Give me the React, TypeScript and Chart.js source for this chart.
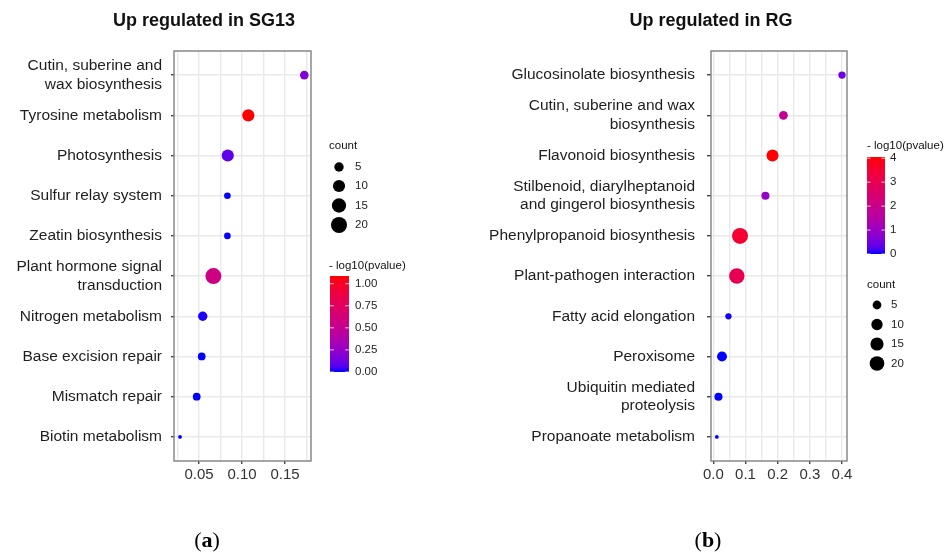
import { useEffect, useRef } from "react";
import { Chart, registerables } from "chart.js";

Chart.register(...registerables);

// ---------- data: panel (a) Up regulated in SG13 ----------
const sg13Pathways: (string | string[])[] = [
  ["Cutin, suberine and", "wax biosynthesis"],
  "Tyrosine metabolism",
  "Photosynthesis",
  "Sulfur relay system",
  "Zeatin biosynthesis",
  ["Plant hormone signal", "transduction"],
  "Nitrogen metabolism",
  "Base excision repair",
  "Mismatch repair",
  "Biotin metabolism",
];
const sg13GeneRatio = [0.1724, 0.1073, 0.0834, 0.083, 0.083, 0.0667, 0.0543, 0.0531, 0.0473, 0.0279];
const sg13Count = [4, 10, 10, 2, 2, 20, 5, 3, 3, 1];
const sg13LogP = [0.17, 1.087, 0.09, 0.0, 0.0, 0.57, 0.01, 0.0, 0.0, 0.0];
const sg13XRange = [0.0209, 0.1802];
const sg13MajorTicks = [0.05, 0.1, 0.15];
const sg13MinorTicks = [0.025, 0.075, 0.125, 0.175];
const sg13CountBreaks = [5, 10, 15, 20];
const sg13CountLimits = [1, 20];
const sg13PBreaks = [0, 0.25, 0.5, 0.75, 1.0];
const sg13PLimits = [0, 1.087];

// ---------- data: panel (b) Up regulated in RG ----------
const rgPathways: (string | string[])[] = [
  "Glucosinolate biosynthesis",
  ["Cutin, suberine and wax", "biosynthesis"],
  "Flavonoid biosynthesis",
  ["Stilbenoid, diarylheptanoid", "and gingerol biosynthesis"],
  "Phenylpropanoid biosynthesis",
  "Plant-pathogen interaction",
  "Fatty acid elongation",
  "Peroxisome",
  ["Ubiquitin mediated", "proteolysis"],
  "Propanoate metabolism",
];
const rgGeneRatio = [0.4, 0.218, 0.184, 0.162, 0.083, 0.073, 0.047, 0.027, 0.016, 0.011];
const rgCount = [3, 5, 12, 4, 25, 23, 2, 7, 4, 1];
const rgLogP = [0.45, 1.85, 4.05, 0.95, 3.55, 3.0, 0.02, 0.0, 0.0, 0.0];
const rgXRange = [-0.0072, 0.4156];
const rgMajorTicks = [0, 0.1, 0.2, 0.3, 0.4];
const rgMinorTicks = [0.05, 0.15, 0.25, 0.35];
const rgCountBreaks = [5, 10, 15, 20];
const rgCountLimits = [1, 25];
const rgPBreaks = [0, 1, 2, 3, 4];
const rgPLimits = [0, 4.05];

// ---------- colour (Lab interpolation blue -> red, like ggplot) ----------
const lin = (c: number) => {
  c /= 255;
  return c <= 0.04045 ? c / 12.92 : Math.pow((c + 0.055) / 1.055, 2.4);
};
const unlin = (c: number) => {
  const v = c <= 0.0031308 ? 12.92 * c : 1.055 * Math.pow(c, 1 / 2.4) - 0.055;
  return Math.max(0, Math.min(255, Math.round(v * 255)));
};
const XN = 0.95047, YN = 1, ZN = 1.08883;
function rgbToLab(rgb: number[]) {
  const R = lin(rgb[0]), G = lin(rgb[1]), B = lin(rgb[2]);
  const X = 0.4124 * R + 0.3576 * G + 0.1805 * B;
  const Y = 0.2126 * R + 0.7152 * G + 0.0722 * B;
  const Z = 0.0193 * R + 0.1192 * G + 0.9505 * B;
  const f = (t: number) => (t > 0.008856 ? Math.cbrt(t) : 7.787 * t + 16 / 116);
  const fx = f(X / XN), fy = f(Y / YN), fz = f(Z / ZN);
  return [116 * fy - 16, 500 * (fx - fy), 200 * (fy - fz)];
}
function labToRgb(lab: number[]) {
  const fy = (lab[0] + 16) / 116;
  const fx = fy + lab[1] / 500;
  const fz = fy - lab[2] / 200;
  const fi = (t: number) => (t * t * t > 0.008856 ? t * t * t : (t - 16 / 116) / 7.787);
  const X = XN * fi(fx), Y = YN * fi(fy), Z = ZN * fi(fz);
  const R = 3.2406 * X - 1.5372 * Y - 0.4986 * Z;
  const G = -0.9689 * X + 1.8758 * Y + 0.0415 * Z;
  const B = 0.0557 * X - 0.204 * Y + 1.057 * Z;
  return [unlin(R), unlin(G), unlin(B)];
}
const LOW = rgbToLab([0, 0, 255]);
const HIGH = rgbToLab([255, 0, 0]);
function gradColor(t: number) {
  t = Math.max(0, Math.min(1, t));
  const lab = [0, 1, 2].map((k) => LOW[k] + (HIGH[k] - LOW[k]) * t);
  const c = labToRgb(lab);
  return `rgb(${c[0]},${c[1]},${c[2]})`;
}
const colorOf = (v: number, lim: number[]) => gradColor((v - lim[0]) / (lim[1] - lim[0]));
const sizeOf = (c: number, lim: number[]) =>
  1.9 + 6.1 * Math.sqrt(Math.max(0, (c - lim[0]) / (lim[1] - lim[0])));

const SANS = "'Liberation Sans', Arial, sans-serif";
const SERIF = "'Liberation Serif', 'Times New Roman', serif";

interface Panel {
  title: string;
  tag: string;
  labels: (string | string[])[];
  ratio: number[];
  count: number[];
  logP: number[];
  xRange: number[];
  major: number[];
  minor: number[];
  decimals: number;
  countBreaks: number[];
  countLimits: number[];
  pBreaks: number[];
  pLimits: number[];
  pDecimals: number;
  left: number;
  right: number;
  tickLen: number;
  labelPad: number;
  titleX: number;
  tagX: number;
  countTitle: [number, number];
  countX: number;
  countYs: number[];
  countLabelX: number;
  barTitle: [number, number];
  bar: [number, number, number, number];
  barLabelX: number;
}

const W = 946, H = 554;
const TOP = 51, BOTTOM = 461;

const panels: Panel[] = [
  {
    title: "Up regulated in SG13",
    tag: "a",
    labels: sg13Pathways,
    ratio: sg13GeneRatio,
    count: sg13Count,
    logP: sg13LogP,
    xRange: sg13XRange,
    major: sg13MajorTicks,
    minor: sg13MinorTicks,
    decimals: 2,
    countBreaks: sg13CountBreaks,
    countLimits: sg13CountLimits,
    pBreaks: sg13PBreaks,
    pLimits: sg13PLimits,
    pDecimals: 2,
    left: 174,
    right: 311,
    tickLen: 3,
    labelPad: 9,
    titleX: 204,
    tagX: 207,
    countTitle: [329, 146],
    countX: 339,
    countYs: [167, 186, 205.5, 225],
    countLabelX: 355,
    barTitle: [329, 266],
    bar: [330, 276, 19, 372],
    barLabelX: 355,
  },
  {
    title: "Up regulated in RG",
    tag: "b",
    labels: rgPathways,
    ratio: rgGeneRatio,
    count: rgCount,
    logP: rgLogP,
    xRange: rgXRange,
    major: rgMajorTicks,
    minor: rgMinorTicks,
    decimals: 1,
    countBreaks: rgCountBreaks,
    countLimits: rgCountLimits,
    pBreaks: rgPBreaks,
    pLimits: rgPLimits,
    pDecimals: 0,
    left: 711,
    right: 847,
    tickLen: 4,
    labelPad: 12,
    titleX: 711,
    tagX: 708,
    countTitle: [867, 285],
    countX: 877,
    countYs: [305, 324.5, 344, 363.5],
    countLabelX: 891,
    barTitle: [867, 146],
    bar: [867, 157, 18, 254],
    barLabelX: 890,
  },
];

const isIn = (v: number, arr: number[]) => arr.some((a) => Math.abs(a - v) < 1e-9);

const decorPlugin = {
  id: "decor",
  afterDraw(chart: any, _args: any, opts: any) {
    const p: Panel = opts.panel;
    const ctx: CanvasRenderingContext2D = chart.ctx;
    const a = chart.chartArea;
    ctx.save();
    ctx.strokeStyle = "#808080";
    ctx.lineWidth = 1.4;
    ctx.strokeRect(a.left, a.top, a.right - a.left, a.bottom - a.top);

    ctx.fillStyle = "#111";
    ctx.textAlign = "center";
    ctx.textBaseline = "middle";
    ctx.font = `bold 18px ${SANS}`;
    ctx.fillText(p.title, p.titleX, 21);

    ctx.textBaseline = "alphabetic";
    ctx.textAlign = "left";
    const fReg = `22px ${SERIF}`;
    const fBold = `bold 22px ${SERIF}`;
    ctx.font = fReg;
    const wP = ctx.measureText("(").width;
    const wC = ctx.measureText(")").width;
    ctx.font = fBold;
    const wT = ctx.measureText(p.tag).width;
    let tx = p.tagX - (wP + wT + wC) / 2;
    const ty = 547;
    ctx.fillStyle = "#000";
    ctx.font = fReg;
    ctx.fillText("(", tx, ty);
    tx += wP;
    ctx.font = fBold;
    ctx.fillText(p.tag, tx, ty);
    tx += wT;
    ctx.font = fReg;
    ctx.fillText(")", tx, ty);

    ctx.textBaseline = "middle";
    ctx.textAlign = "left";
    ctx.font = `11.5px ${SANS}`;
    ctx.fillStyle = "#111";
    ctx.fillText("count", p.countTitle[0], p.countTitle[1]);
    p.countBreaks.forEach((c, i) => {
      const y = p.countYs[i];
      ctx.beginPath();
      ctx.fillStyle = "#000";
      ctx.arc(p.countX, y, sizeOf(c, p.countLimits), 0, Math.PI * 2);
      ctx.fill();
      ctx.fillStyle = "#222";
      ctx.fillText(String(c), p.countLabelX, y);
    });

    ctx.fillStyle = "#111";
    ctx.fillText("- log10(pvalue)", p.barTitle[0], p.barTitle[1]);
    const [bx, btop, bw, bbot] = p.bar;
    const g = ctx.createLinearGradient(0, bbot, 0, btop);
    for (let i = 0; i <= 20; i++) g.addColorStop(i / 20, gradColor(i / 20));
    ctx.fillStyle = g;
    ctx.fillRect(bx, btop, bw, bbot - btop);
    const span = p.pLimits[1] - p.pLimits[0];
    ctx.strokeStyle = "rgba(255,255,255,0.75)";
    ctx.lineWidth = 1;
    p.pBreaks.forEach((v) => {
      const y = bbot - ((v - p.pLimits[0]) / span) * (bbot - btop);
      ctx.beginPath();
      ctx.moveTo(bx, y);
      ctx.lineTo(bx + bw / 5, y);
      ctx.moveTo(bx + bw - bw / 5, y);
      ctx.lineTo(bx + bw, y);
      ctx.stroke();
      ctx.fillStyle = "#222";
      ctx.fillText(v.toFixed(p.pDecimals), p.barLabelX, y);
    });
    ctx.restore();
  },
};

function makeChart(canvas: HTMLCanvasElement, p: Panel) {
  const ticks = [...p.major, ...p.minor].sort((x, y) => x - y);
  return new Chart(canvas, {
    type: "scatter",
    data: {
      datasets: [
        {
          data: p.ratio.map((x, i) => ({ x, y: i })),
          pointRadius: p.count.map((c) => sizeOf(c, p.countLimits)),
          pointHoverRadius: p.count.map((c) => sizeOf(c, p.countLimits)),
          pointBackgroundColor: p.logP.map((v) => colorOf(v, p.pLimits)),
          pointBorderWidth: 0,
          borderWidth: 0,
        } as any,
      ],
    },
    options: {
      responsive: false,
      animation: false,
      events: [],
      layout: {
        autoPadding: false,
        padding: { left: 0, right: W - p.right, top: TOP, bottom: H - BOTTOM - 30 },
      },
      plugins: {
        legend: { display: false },
        tooltip: { enabled: false },
        decor: { panel: p },
      } as any,
      scales: {
        x: {
          type: "linear",
          min: p.xRange[0],
          max: p.xRange[1],
          afterBuildTicks: (s: any) => {
            s.ticks = ticks.map((v) => ({ value: v }));
          },
          afterFit: (s: any) => {
            s.height = 30;
          },
          border: { display: false },
          grid: {
            color: "#e9e9e9",
            lineWidth: 1.4,
            drawTicks: true,
            tickLength: 3,
            tickColor: (c: any) => (isIn(c.tick?.value, p.major) ? "#444" : "rgba(0,0,0,0)"),
          },
          ticks: {
            autoSkip: false,
            maxRotation: 0,
            padding: 2,
            color: "#333",
            font: { family: SANS, size: 15 },
            callback: (v: any) => (isIn(Number(v), p.major) ? Number(v).toFixed(p.decimals) : ""),
          },
        },
        y: {
          type: "linear",
          reverse: true,
          min: -0.6,
          max: p.labels.length - 1 + 0.6,
          afterBuildTicks: (s: any) => {
            s.ticks = p.labels.map((_, i) => ({ value: i }));
          },
          afterFit: (s: any) => {
            s.width = p.left;
          },
          border: { display: false },
          grid: {
            color: "#e9e9e9",
            lineWidth: 1.4,
            drawTicks: true,
            tickLength: p.tickLen,
            tickColor: "#444",
          },
          ticks: {
            autoSkip: false,
            padding: p.labelPad,
            color: "#1e1e1e",
            font: { family: SANS, size: 15.5, lineHeight: 1.22 },
            callback: (v: any) => p.labels[Math.round(Number(v))] as any,
          },
        },
      },
    } as any,
    plugins: [decorPlugin],
  });
}

export default function App() {
  const refA = useRef<HTMLCanvasElement>(null);
  const refB = useRef<HTMLCanvasElement>(null);
  useEffect(() => {
    const c1 = makeChart(refA.current!, panels[0]);
    const c2 = makeChart(refB.current!, panels[1]);
    return () => {
      c1.destroy();
      c2.destroy();
    };
  }, []);
  const cs: React.CSSProperties = { position: "absolute", left: 0, top: 0 };
  return (
    <div style={{ position: "absolute", left: 0, top: 0, width: W, height: H, background: "#fff" }}>
      <canvas ref={refA} width={W} height={H} style={cs} />
      <canvas ref={refB} width={W} height={H} style={cs} />
    </div>
  );
}
